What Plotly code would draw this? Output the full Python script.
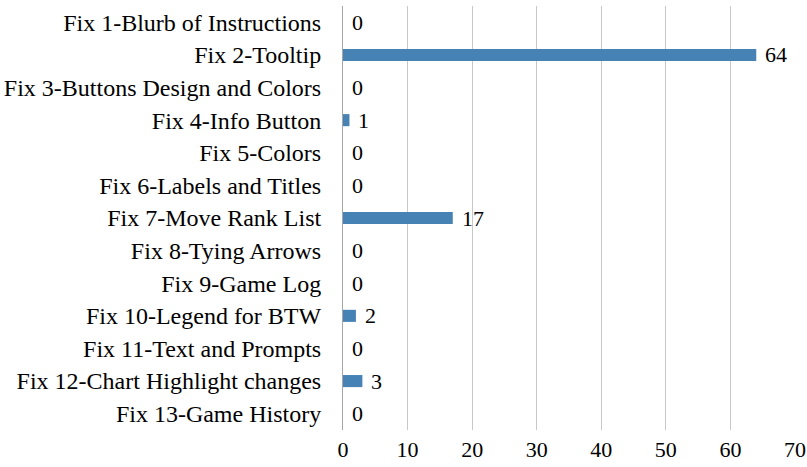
import plotly.graph_objects as go

categories = [
    "Fix 1-Blurb of Instructions",
    "Fix 2-Tooltip",
    "Fix 3-Buttons Design and Colors",
    "Fix 4-Info Button",
    "Fix 5-Colors",
    "Fix 6-Labels and Titles",
    "Fix 7-Move Rank List",
    "Fix 8-Tying Arrows",
    "Fix 9-Game Log",
    "Fix 10-Legend for BTW",
    "Fix 11-Text and Prompts",
    "Fix 12-Chart Highlight changes",
    "Fix 13-Game History",
]
values = [0, 64, 0, 1, 0, 0, 17, 0, 0, 2, 0, 3, 0]
x_ticks = [0, 10, 20, 30, 40, 50, 60, 70]

FONT = "Times New Roman, Liberation Serif, Tinos, serif"

fig = go.Figure()
fig.add_trace(go.Bar(
    x=values,
    y=categories,
    orientation="h",
    marker=dict(color="#4682B4", line=dict(width=0)),
    hoverinfo="x+y",
))

for c, v in zip(categories, values):
    fig.add_annotation(
        x=v, y=c, text=str(v), showarrow=False,
        xanchor="left", xshift=7,
        font=dict(family=FONT, size=22, color="black"),
    )

fig.update_layout(
    width=807, height=467,
    margin=dict(l=343, r=12, t=6, b=37, autoexpand=False),
    paper_bgcolor="white",
    plot_bgcolor="white",
    bargap=0.63,
    showlegend=False,
    font=dict(family=FONT, size=22, color="black"),
)
fig.update_xaxes(
    range=[0, 70],
    tickvals=x_ticks,
    showgrid=True,
    gridcolor="#c8c8c8",
    gridwidth=1,
    zeroline=False,
    showline=False,
    ticks="",
    ticklabelstandoff=4,
    automargin=False,
    tickfont=dict(family=FONT, size=22, color="black"),
)
fig.update_yaxes(
    autorange="reversed",
    showgrid=False,
    showline=True,
    linecolor="#a6a6a6",
    linewidth=1,
    ticks="",
    ticklabelstandoff=16,
    automargin=False,
    tickfont=dict(family=FONT, size=24, color="black"),
)

fig.write_html("out.html", config={"displayModeBar": False},
               post_script="document.body.style.margin='0';")
